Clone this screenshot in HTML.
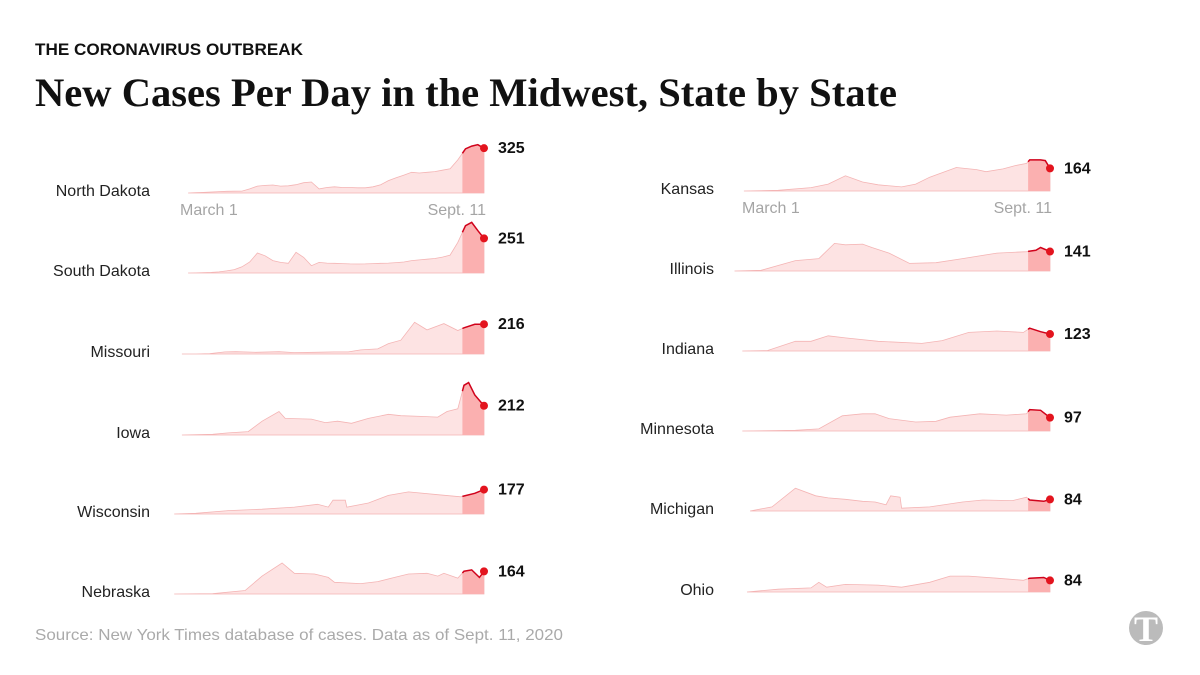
<!DOCTYPE html>
<html><head><meta charset="utf-8"><style>
html,body{margin:0;padding:0;background:#fff;width:1200px;height:675px;overflow:hidden}
svg{display:block}
</style></head><body>
<svg id="chart" width="1200" height="675" xmlns="http://www.w3.org/2000/svg">
<text x="35" y="55" font-family="Liberation Sans, sans-serif" font-weight="bold" font-size="16.5" fill="#111" textLength="268" lengthAdjust="spacingAndGlyphs">THE CORONAVIRUS OUTBREAK</text>
<text x="35" y="106" font-family="Liberation Serif, serif" font-weight="bold" font-size="40" fill="#111" textLength="862" lengthAdjust="spacingAndGlyphs">New Cases Per Day in the Midwest, State by State</text>
<text x="35" y="640" font-family="Liberation Sans, sans-serif" font-size="16" fill="#aaa" textLength="528" lengthAdjust="spacingAndGlyphs">Source: New York Times database of cases. Data as of Sept. 11, 2020</text>
<g>
<circle cx="1146" cy="628" r="17" fill="#bbb"/>
<text x="1146" y="641" text-anchor="middle" font-family="Liberation Serif, serif" font-weight="bold" font-size="36" fill="#fff">T</text>
</g>
<g id="panels"></g>
</svg>
<script>
// Days are measured from March 1 (day 0) to Sept. 11 (day 194)
const stateNames = ["North Dakota","South Dakota","Missouri","Iowa","Wisconsin","Nebraska","Kansas","Illinois","Indiana","Minnesota","Michigan","Ohio"];
const latestValues = [325,251,216,212,177,164,164,141,123,97,84,84];

const ndDays = [2,7,12,17,22,27,32,37,42,47,52,57,62,67,72,77,82,87,92,97,102,107,112,117,122,127,132,137,142,147,152,157,162,167,172,177,182,186,190,194];
const ndVals = [0,2,4,7,10,12,13,14,30,50,55,58,50,52,60,75,80,30,40,45,40,40,38,38,45,60,90,110,130,150,145,150,155,165,175,240,320,340,350,325];
const sdDays = ndDays;
const sdVals = [0,1,2,4,8,15,25,45,80,145,125,90,77,70,150,113,53,77,72,70,68,66,65,66,68,70,72,75,80,90,95,100,105,115,130,222,343,367,307,251];
const moDays = [-2,7,16,26,33,46,61,71,84,97,106,114,125,132,140,149,157,168,177,181,188,194];
const moVals = [0,0,3,15,17,12,17,10,12,15,15,30,37,75,100,230,175,220,170,190,215,216];
const iaDays = [-2,18,28,41,50,61,65,82,91,99,108,119,132,140,153,164,170,177,181,184,188,194];
const iaVals = [0,5,15,25,100,170,120,115,90,100,85,120,150,140,135,130,170,190,360,380,290,212];
const wiDays = [-7,7,28,50,71,86,93,96,104,105,119,132,145,164,179,188,194];
const wiVals = [0,5,25,35,50,70,50,100,100,50,80,135,160,140,125,150,177];
const neDays = [-7,18,39,50,63,71,84,93,97,114,125,136,145,157,164,168,177,181,186,191,194];
const neVals = [0,2,25,130,225,150,145,120,85,75,90,120,145,150,130,150,115,165,175,120,164];
const ksDays = [-2,20,41,52,63,74,84,99,108,117,134,147,153,164,172,179,181,188,191,194];
const ksVals = [0,5,25,50,110,65,45,30,50,100,170,155,140,160,185,200,225,225,220,164];
const ilDays = [-8,9,31,46,56,63,74,80,91,104,121,138,160,179,185,188,194];
const ilVals = [0,5,75,90,200,190,195,170,130,55,60,90,130,140,150,170,141];
const inDays = [-3,13,31,41,52,63,84,112,125,142,160,177,181,188,194];
const inVals = [0,3,70,70,110,95,70,55,75,135,145,135,165,140,123];
const mnDays = [-3,31,46,61,74,82,91,108,121,130,149,166,179,181,188,194];
const mnVals = [0,5,15,110,125,125,90,65,70,100,125,115,125,155,150,97];
const miDays = [2,16,31,44,52,63,74,82,89,92,98,99,117,138,151,170,179,181,190,194];
const miVals = [0,30,165,110,95,85,70,65,45,110,100,20,30,65,80,75,100,80,70,84];
const ohDays = [0,20,41,46,51,63,84,99,117,130,142,160,177,181,190,194];
const ohVals = [0,20,30,70,35,55,50,35,70,115,115,100,85,100,105,84];

const allDays = [ndDays,sdDays,moDays,iaDays,wiDays,neDays,ksDays,ilDays,inDays,mnDays,miDays,ohDays];
const allVals = [ndVals,sdVals,moVals,iaVals,wiVals,neVals,ksVals,ilVals,inVals,mnVals,miVals,ohVals];
const axisLabels = ["March 1","Sept. 11"];

const NS = "http://www.w3.org/2000/svg";
const root = document.getElementById('panels');
const baselines = [193,273,354,435,514,594];
const rightBaselines = [191,271,351,431,511,592];
const PX_PER_UNIT = 0.138;
const END_DAY = 194, HL_DAY = 180;

function mk(tag, attrs, parent){ const e=document.createElementNS(NS,tag); for(const k in attrs) e.setAttribute(k,attrs[k]); (parent||root).appendChild(e); return e; }

stateNames.forEach((name,i)=>{
  const col = i<6?0:1, row = i%6;
  const base = col===0?baselines[row]:rightBaselines[row];
  const xEnd = col===0?484:1050;
  const xStart = col===0?185:747;
  const xs = d => xEnd - (END_DAY-d)*(xEnd-xStart)/END_DAY;
  const ys = v => base - v*PX_PER_UNIT;
  const days = allDays[i], vals = allVals[i];
  const g = mk('g',{});
  
  
  let pts = days.map((d,j)=>xs(d).toFixed(1)+','+ys(vals[j]).toFixed(1));
  const area = mk('path',{d:'M'+xs(days[0])+','+base+' L'+pts.join(' L')+' L'+xs(days[days.length-1])+','+base+' Z',fill:'#fde3e3',stroke:'#f4b4b4','stroke-width':'0.8'},g);
  
  
  // highlight region (last 14 days)
  const hp=[]; let started=false;
  for(let j=0;j<days.length;j++){
    if(days[j]>=HL_DAY){
      if(!started && j>0){ const d0=days[j-1],d1=days[j],t=(HL_DAY-d0)/(d1-d0); hp.push([HL_DAY, vals[j-1]+t*(vals[j]-vals[j-1])]); }
      started=true; hp.push([days[j],vals[j]]);
    }
  }
  const hpts = hp.map(p=>xs(p[0]).toFixed(1)+','+ys(p[1]).toFixed(1));
  const hl = mk('path',{d:'M'+xs(HL_DAY)+','+base+' L'+hpts.join(' L')+' L'+xEnd+','+base+' Z',fill:'#fbb0b0'},g);
  
  
  const ln = mk('polyline',{points:hpts.join(' '),fill:'none',stroke:'#d0021b','stroke-width':'1.5'},g);
  
  
  const last = vals[vals.length-1];
  const dot = mk('circle',{cx:xEnd,cy:ys(last),r:4,fill:'#e3141e'},g);
  
  
  const lbl = mk('text',{x:xEnd+14,y:ys(last)+5,'font-family':'Liberation Sans, sans-serif','font-weight':'bold','font-size':'16',fill:'#111'},g);
  lbl.textContent = latestValues[i];
  
  
  const nm = mk('text',{x:col===0?150:714,y:base+3,'text-anchor':'end','font-family':'Liberation Sans, sans-serif','font-size':'16',fill:'#222'},g);
  nm.textContent = name;
  
  
  if(row===0){
    const a1 = mk('text',{x:xStart-5,y:base+22,'font-family':'Liberation Sans, sans-serif','font-size':'16',fill:'#a5a5a5'},g);
    a1.textContent = axisLabels[0];
    
    
    const a2 = mk('text',{x:xEnd+2,y:base+22,'text-anchor':'end','font-family':'Liberation Sans, sans-serif','font-size':'16',fill:'#a5a5a5'},g);
    a2.textContent = axisLabels[1];
    
    
  }
});
</script>
</body></html>
